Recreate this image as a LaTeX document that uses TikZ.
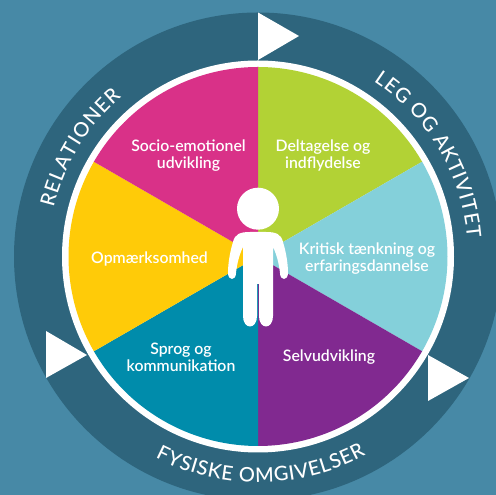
\documentclass[tikz,border=0pt]{standalone}
\usepackage{fontspec}
\setmainfont{Lato}
\newfontfamily\labelfont{Lato Semibold}
\newfontfamily\ringfont{Lato Medium}
\usetikzlibrary{decorations.text}
\definecolor{bgc}{HTML}{4789A6}
\definecolor{ringc}{HTML}{2E657D}
\definecolor{magc}{HTML}{D93188}
\definecolor{grnc}{HTML}{B2D235}
\definecolor{cync}{HTML}{84D0DA}
\definecolor{purc}{HTML}{812990}
\definecolor{teac}{HTML}{008CAB}
\definecolor{yelc}{HTML}{FFCB08}
\tikzset{
  seglabel/.style={text=white,align=center,font=\labelfont\fontsize{15.8}{17}\selectfont,inner sep=0pt},
  flag/.style={fill=white,draw=none},
}
\newcommand{\wedgeat}[3]{\fill[#1] (258pt,238.5pt) -- ++(#2:189.5pt) arc[start angle=#2,end angle=#3,radius=189.5pt] -- cycle;}
\begin{document}
\begin{tikzpicture}[x=1pt,y=1pt]
\path[use as bounding box,fill=bgc] (0,0) rectangle (496,495);
\begin{scope}
\clip (0,0) rectangle (496,495);
\fill[ringc] (258,238.5) circle[radius=244pt];
\end{scope}
\fill[white] (258,238.5) circle[radius=196pt];
\wedgeat{grnc}{90}{30}
\wedgeat{cync}{30}{-30}
\wedgeat{purc}{-30}{-90}
\wedgeat{teac}{-90}{-150}
\wedgeat{yelc}{-150}{-210}
\wedgeat{magc}{150}{90}
% triangles
\fill[flag] (258,482.5) -- (258,435) -- (299,459) -- cycle;
\fill[flag] (46,164) -- (46,117) -- (87,140) -- cycle;
\fill[flag] (428,140) -- (428,94) -- (469,117) -- cycle;
% child
\fill[white] (258,286.3) circle[radius=21pt];
\fill[white]
 (250,263)
 .. controls (240,263) and (235,261) .. (233,253)
 .. controls (230,243) and (228,232) .. (228,222)
 .. controls (228,214) and (236,214) .. (236,222)
 .. controls (237,232) and (240,242) .. (243,248)
 -- (243,179)
 .. controls (243,165) and (257,165) .. (257,179)
 -- (257,211) -- (259,211) -- (259,179)
 .. controls (259,165) and (273,165) .. (273,179)
 -- (273,248)
 .. controls (276,242) and (279,232) .. (280,222)
 .. controls (280,214) and (288,214) .. (288,222)
 .. controls (288,232) and (286,243) .. (283,253)
 .. controls (281,261) and (276,263) .. (266,263)
 -- cycle;
% labels
\node[seglabel] (socio) at (188.5,339.5) {Socio-emotionel\\udvikling};
\node[seglabel] (delt) at (323,339.5) {Deltagelse og\\indflydelse};
\node[seglabel] (krit) at (367,236.5) {Kritisk tænkning og\\erfaringsdannelse};
\node[seglabel] (opm) at (149.5,236) {Opmærksomhed};
\node[seglabel] (sprog) at (181,137.5) {Sprog og\\kommunikation};
\node[seglabel] (selv) at (329,138) {Selvudvikling};
% ring texts
\path[decorate,decoration={text along path,text align={fit to path},text color=white,
  text={|\ringfont\fontsize{20}{22}\selectfont|RELATIONER}}]
  (258,238.5) ++(166.5:210pt) arc[start angle=166.5,end angle=130.5,radius=210pt];
\path[decorate,decoration={text along path,text align={fit to path},text color=white,
  text={|\ringfont\fontsize{20}{22}\selectfont|LEG OG AKTIVITET}}]
  (258,238.5) ++(56.6:210pt) arc[start angle=56.6,end angle=5,radius=210pt];
\path[decorate,decoration={text along path,text align={fit to path},text color=white,
  text={|\ringfont\fontsize{20}{22}\selectfont|FYSISKE OMGIVELSER}}]
  (258,238.5) ++(-117:226pt) arc[start angle=-117,end angle=-61.5,radius=226pt];
\end{tikzpicture}
\end{document}
